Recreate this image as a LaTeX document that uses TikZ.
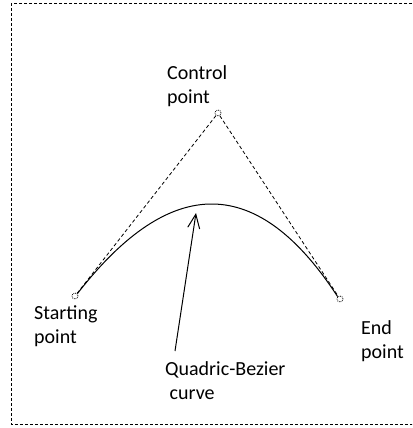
\documentclass[tikz,border=0pt]{standalone}
\usepackage{fontspec}
\setmainfont{Carlito}
\usetikzlibrary{arrows.meta,calc}
\begin{document}
\begin{tikzpicture}[x=1pt,y=-1pt,
  lbl/.style={font=\fontsize{20}{24.5}\selectfont, align=left, inner sep=0pt, anchor=north west},
  pt/.style={draw, densely dotted, line width=0.8pt, circle, minimum size=6pt, inner sep=0pt},
  frame/.style={draw, line width=0.9pt, dash pattern=on 3pt off 2pt}]
\useasboundingbox (0,0) rectangle (412,428);
\begin{scope}
\clip (0,0) rectangle (412,428);
\draw[frame] (11,3) rectangle (418,424);
\end{scope}
\node[pt] (s) at (75,296) {};
\node[pt] (c) at (218,113) {};
\node[pt] (e) at (340,299) {};
\draw[line width=0.8pt, dash pattern=on 3.5pt off 2.5pt] (s) -- (c) -- (e);
\draw[line width=1pt] (s.north east) .. controls ($(s.north east)!0.667!(c)$) and ($(e.north west)!0.667!(c)$) .. (e.north west);
\coordinate (tip) at (196,213);
\coordinate (tail) at (175,351);
\draw[line width=1pt, -{Straight Barb[length=14pt,width=12pt]}] (tail) -- (tip);
\node[lbl] (cl) at (167,65) {Control\\point};
\node[lbl] (sl) at (34,305) {Starting\\point};
\node[lbl] (el) at (361,320) {End\\point};
\node[lbl] (ql) at (165,361) {Quadric-Bezier\\\ curve};
\end{tikzpicture}
\end{document}
